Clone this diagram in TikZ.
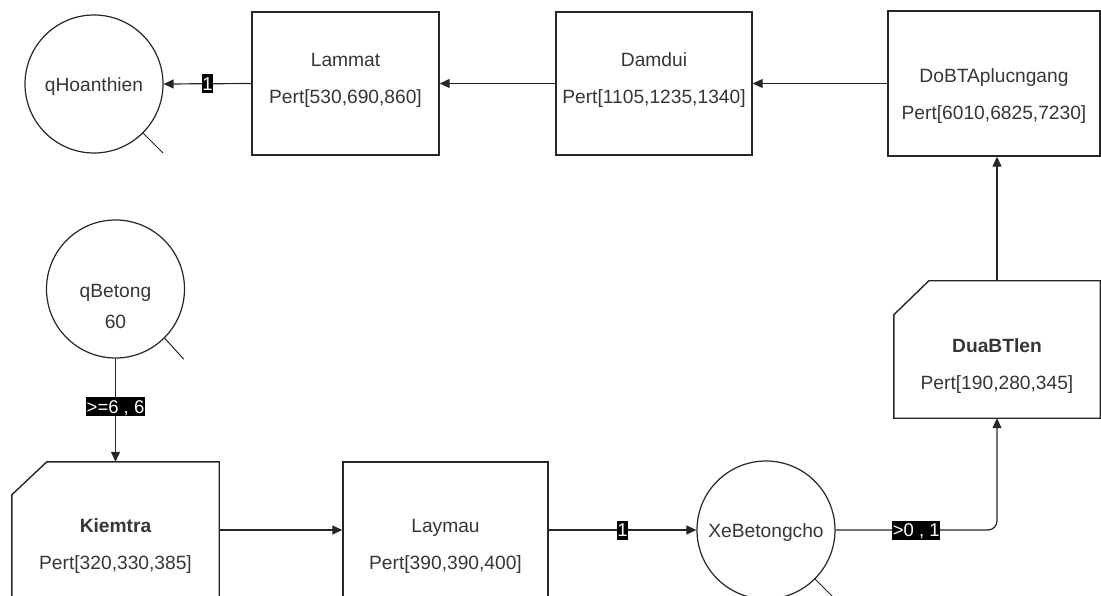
\documentclass[tikz,border=0pt]{standalone}
\usepackage{fontspec}
\setmainfont{Liberation Sans}
\usetikzlibrary{arrows.meta}
\definecolor{ink}{HTML}{262626}
\definecolor{txt}{HTML}{363636}
\newcommand{\labelfont}{\fontsize{19.2}{23}\selectfont}
\begin{document}
\begin{tikzpicture}[x=1pt,y=-1pt,
  font=\labelfont, text=txt,
  box/.style={draw=ink, line width=1.4pt, rectangle, inner sep=0pt},
  ghost/.style={draw=none, rectangle, inner sep=0pt},
  outline/.style={draw=ink, line width=1.4pt},
  place/.style={draw=ink, line width=1.2pt, circle, minimum size=138pt, inner sep=0pt},
  lbl/.style={anchor=base, inner sep=0pt},
  flow/.style={draw=ink, line width=1.2pt, -{Triangle[length=10pt,width=9pt]}},
  tag/.style={sharp corners, fill=black, text=white, inner xsep=0.5pt, inner ysep=3pt,
              text height=13pt, text depth=0pt, font=\fontsize{18.5}{22}\selectfont},
  tail/.style={draw=ink, line width=1pt}]
\clip (0,0) rectangle (1101,596);

% --- places (circles) ---
\node[place] (qhoan) at (94,84) {};
\node[lbl] (qhoanT) at (94,92) {qHoanthien};
\node[place] (qbetong) at (115.5,289) {};
\node[lbl] (qbetongT) at (115.5,298) {qBetong};
\node[lbl] (qbetongN) at (115.5,328) {60};
\node[place] (xebt) at (766,530) {};
\node[lbl] (xebtT) at (766,537) {XeBetongcho};

% --- plain activity boxes ---
\node[box, minimum width=187pt, minimum height=143pt] (lammat) at (345.5,83.5) {};
\node[lbl] (lammatT) at (345.5,66.5) {Lammat};
\node[lbl] (lammatP) at (345.5,103.5) {Pert[530,690,860]};

\node[box, minimum width=196pt, minimum height=143pt] (damdui) at (654,83.5) {};
\node[lbl] (damduiT) at (654,66.5) {Damdui};
\node[lbl] (damduiP) at (654,103.5) {Pert[1105,1235,1340]};

\node[box, minimum width=212pt, minimum height=145pt] (dobt) at (994,83.5) {};
\node[lbl] (dobtT) at (994,83) {DoBTAplucngang};
\node[lbl] (dobtP) at (994,120) {Pert[6010,6825,7230]};

\node[box, minimum width=205pt, minimum height=166pt] (laymau) at (445.5,545) {};
\node[lbl] (laymauT) at (445.5,532) {Laymau};
\node[lbl] (laymauP) at (445.5,569) {Pert[390,390,400]};

% --- boxes with a cut top-left corner ---
\node[ghost, minimum width=207pt, minimum height=166pt] (kiemtra) at (115.5,545) {};
\draw[outline] (kiemtra.south west) -- ([yshift=-33pt]kiemtra.north west)
  -- ([xshift=35pt]kiemtra.north west) -- (kiemtra.north east) -- (kiemtra.south east);
\node[lbl, font=\labelfont\bfseries] (kiemtraT) at (115.5,532) {Kiemtra};
\node[lbl] (kiemtraP) at (115.5,569) {Pert[320,330,385]};

\node[ghost, minimum width=206pt, minimum height=137pt] (duabt) at (997,349.5) {};
\draw[outline] (duabt.south west) -- ([yshift=-34pt]duabt.north west)
  -- ([xshift=35pt]duabt.north west) -- (duabt.north east) -- (duabt.south east) -- cycle;
\node[lbl, font=\labelfont\bfseries] (duabtT) at (997,352) {DuaBTlen};
\node[lbl] (duabtP) at (997,389) {Pert[190,280,345]};

% --- connectors ---
\draw[flow] (lammat.west) -- node[tag] {1} (qhoan.east);
\draw[flow] (damdui.west) -- (lammat.east);
\draw[flow] (dobt.west) -- (damdui.east);
\draw[flow] (duabt.north) -- (duabt.north |- dobt.south);
\draw[flow] (qbetong.south) -- node[tag, pos=0.466] {>=6 , 6} (kiemtra.north);
\draw[flow] ([yshift=15pt]kiemtra.east) -- ([yshift=15pt]laymau.west);
\draw[flow] ([yshift=15pt]laymau.east) -- node[tag] {1} (xebt.west);
\draw[flow, rounded corners=9pt] (xebt.east) -| node[tag, pos=0.25] {>0 , 1} (duabt.south);

% --- place tails ---
\draw[tail] (qhoan.south east) -- ++(20,20);
\draw[tail] (qbetong.south east) -- ++(19,21);
\draw[tail] (xebt.south east) -- ++(30,30);
\end{tikzpicture}
\end{document}
